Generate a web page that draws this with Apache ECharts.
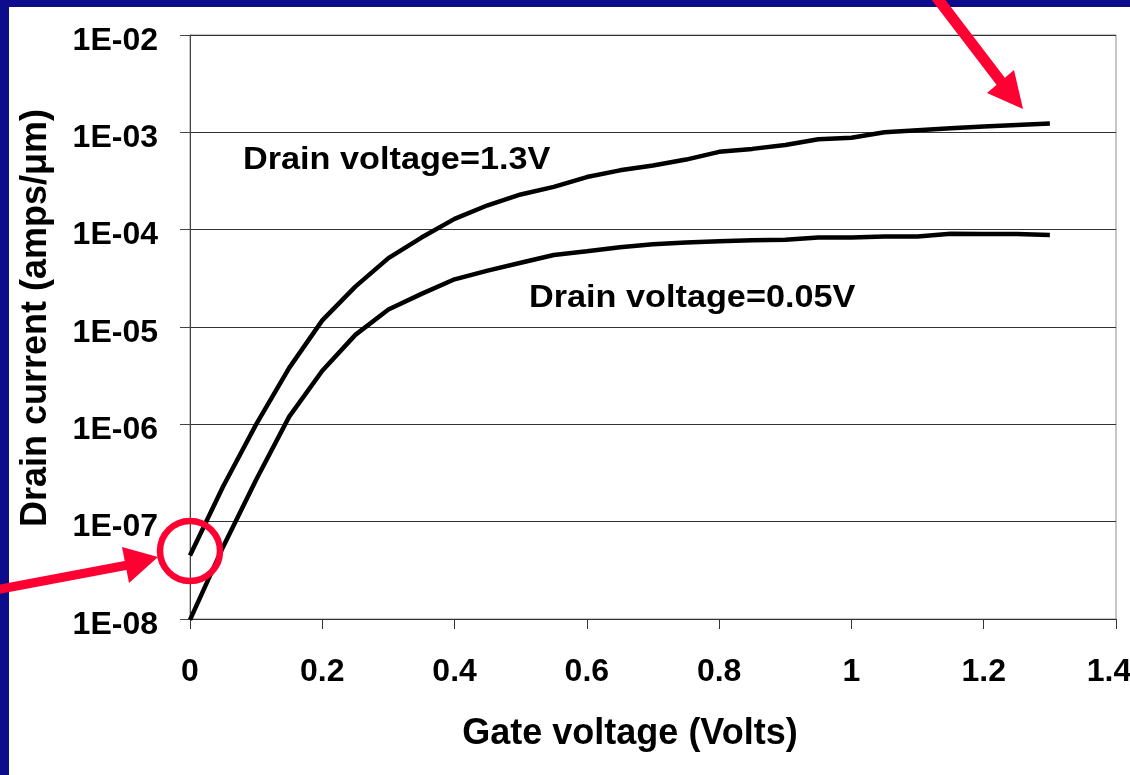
<!DOCTYPE html>
<html>
<head>
<meta charset="utf-8">
<script src="https://cdn.jsdelivr.net/npm/echarts@6/dist/echarts.min.js"></script>
<style>
  html, body { margin: 0; padding: 0; width: 1130px; height: 775px; overflow: hidden; background: #0c0c8c; }
  #paper { position: absolute; left: 9px; top: 7px; right: 0; bottom: 0; background: #ffffff; }
  #chart { position: absolute; left: 0; top: 0; width: 1130px; height: 775px; }
</style>
</head>
<body>
<div id="paper"></div>
<div id="chart"></div>
<script>
// ---- data ----
const gateVoltage = [0, 0.05, 0.1, 0.15, 0.2, 0.25, 0.3, 0.35, 0.4, 0.45, 0.5, 0.55, 0.6, 0.65,
  0.7, 0.75, 0.8, 0.85, 0.9, 0.95, 1.0, 1.05, 1.1, 1.15, 1.2, 1.25, 1.3];
const currentVd13 = [4.5e-8, 2.3e-7, 1.0e-6, 3.8e-6, 1.17e-5, 2.6e-5, 5.1e-5, 8.3e-5, 1.29e-4,
  1.78e-4, 2.3e-4, 2.75e-4, 3.47e-4, 4.07e-4, 4.57e-4, 5.25e-4, 6.3e-4, 6.76e-4, 7.41e-4,
  8.5e-4, 8.8e-4, 1.0e-3, 1.05e-3, 1.10e-3, 1.15e-3, 1.19e-3, 1.23e-3];
const currentVd005 = [9.8e-9, 5.5e-8, 2.7e-7, 1.2e-6, 3.55e-6, 8.3e-6, 1.51e-5, 2.19e-5, 3.09e-5,
  3.8e-5, 4.57e-5, 5.5e-5, 6.0e-5, 6.6e-5, 7.1e-5, 7.4e-5, 7.6e-5, 7.8e-5, 7.9e-5, 8.3e-5,
  8.3e-5, 8.5e-5, 8.5e-5, 9.1e-5, 9.0e-5, 9.0e-5, 8.8e-5];
const xTickLabels = ['0', '0.2', '0.4', '0.6', '0.8', '1', '1.2', '1.4'];
const yTickLabels = ['1E-08', '1E-07', '1E-06', '1E-05', '1E-04', '1E-03', '1E-02'];
const seriesNames = ['Drain voltage=1.3V', 'Drain voltage=0.05V'];
const xTitle = 'Gate voltage (Volts)';
const yTitle = 'Drain current (amps/\u03bcm)';

const FONT = '"Liberation Sans", Arial, sans-serif';
const RED = '#ff0033';

const chart = echarts.init(document.getElementById('chart'), null, { renderer: 'canvas' });

function pairs(xs, ys) { return xs.map((x, i) => [x, ys[i]]); }

chart.setOption({
  animation: false,
  backgroundColor: 'transparent',
  grid: {
    left: 190, top: 35, right: 14, bottom: 156,
    containLabel: false, outerBoundsMode: 'none',
    show: true, borderColor: '#8c8c8c', borderWidth: 1, backgroundColor: 'transparent'
  },
  xAxis: {
    type: 'value', min: 0, max: 1.4, interval: 0.2,
    name: xTitle, nameLocation: 'middle', nameGap: 97,
    nameTextStyle: { fontFamily: FONT, fontWeight: 'bold', fontSize: 36, color: '#000', padding: [0, 46, 0, 0] },
    axisLine: { show: true, onZero: false, lineStyle: { color: '#333', width: 1 } },
    axisTick: { show: true, inside: false, length: 10, lineStyle: { color: '#333', width: 1 } },
    splitLine: { show: false },
    axisLabel: {
      margin: 37, fontFamily: FONT, fontWeight: 'bold', fontSize: 32, color: '#000',
      formatter: v => {
        const i = Math.round(v / 0.2);
        return i === xTickLabels.length - 1 ? '{last|' + xTickLabels[i] + '}' : xTickLabels[i];
      },
      rich: { last: { fontFamily: FONT, fontWeight: 'bold', fontSize: 32, color: '#000', padding: [0, 14, 0, 0] } }
    }
  },
  yAxis: {
    type: 'log', logBase: 10, min: 1e-8, max: 1e-2,
    name: yTitle, nameLocation: 'middle', nameGap: 136,
    nameTextStyle: { fontFamily: FONT, fontWeight: 'bold', fontSize: 36, color: '#000', padding: [0, 0, 0, 18] },
    axisLine: { show: true, lineStyle: { color: '#444', width: 1 } },
    axisTick: { show: true, inside: false, length: 10, lineStyle: { color: '#444', width: 1 } },
    minorTick: { show: false },
    splitLine: { show: true, lineStyle: { color: '#333', width: 1 } },
    axisLabel: {
      margin: 32, fontFamily: FONT, fontWeight: 'bold', fontSize: 32, color: '#000',
      verticalAlign: 'top', lineHeight: 12,
      formatter: v => yTickLabels[Math.round(Math.log10(v)) + 8]
    }
  },
  series: [
    {
      name: seriesNames[0], type: 'line', data: pairs(gateVoltage, currentVd13),
      symbol: 'none', smooth: false, lineStyle: { color: '#000', width: 4.5 }, z: 3
    },
    {
      name: seriesNames[1], type: 'line', data: pairs(gateVoltage, currentVd005),
      symbol: 'none', smooth: false, lineStyle: { color: '#000', width: 4.5 }, z: 3
    }
  ],
  graphic: [
    { type: 'text', left: 243, top: 144, z: 10, scaleX: 1.07,
      style: { text: seriesNames[0], font: 'bold 32px ' + FONT, fill: '#000' } },
    { type: 'text', left: 529, top: 282, z: 10, scaleX: 1.07,
      style: { text: seriesNames[1], font: 'bold 32px ' + FONT, fill: '#000' } },
    // red circle around the start of the upper curve
    { type: 'circle', z: 20, shape: { cx: 190, cy: 551, r: 30 },
      style: { fill: 'none', stroke: RED, lineWidth: 6.5 } },
    // left arrow
    { type: 'polyline', z: 20, shape: { points: [[-5, 590], [128, 565]] },
      style: { stroke: RED, lineWidth: 9, fill: 'none' } },
    { type: 'polygon', z: 20, shape: { points: [[122, 547], [129, 583], [158, 557]] },
      style: { fill: RED } },
    // top-right arrow
    { type: 'polyline', z: 20, shape: { points: [[934, -6], [1002, 83]] },
      style: { stroke: RED, lineWidth: 11, fill: 'none' } },
    { type: 'polygon', z: 20, shape: { points: [[987, 93], [1014, 70], [1023, 109]] },
      style: { fill: RED } }
  ]
});
</script>
</body>
</html>
